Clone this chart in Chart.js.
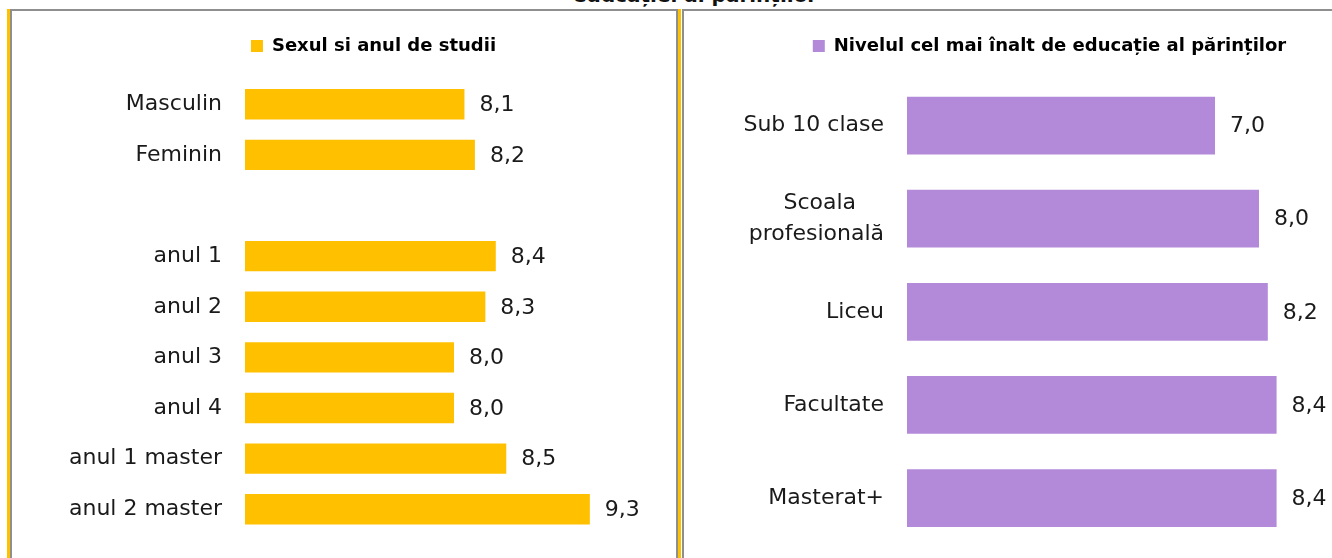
<!DOCTYPE html>
<html>
<head>
<meta charset="utf-8">
<script src="https://cdn.jsdelivr.net/npm/chart.js@4.4.1/dist/chart.umd.min.js"></script>
<style>
  html, body { margin: 0; padding: 0; background: #fff; }
  body { width: 1332px; height: 558px; overflow: hidden; position: relative; font-family: "DejaVu Sans", sans-serif; }
  .gold { position: absolute; top: 9px; width: 3px; height: 560px; background: #FFC000; }
  .frame { position: absolute; top: 9px; height: 560px; border-top: 2px solid #8f8f8f; }
  .title { position: absolute; left: 0; width: 1400px; top: -15px; line-height: 20px; font-size: 20px; font-weight: bold; color: #111; }
  .box { position: absolute; top: 11px; }
</style>
</head>
<body>
<div class="title"><span style="position:absolute; left:573px; white-space:nowrap;">educației al părinților</span></div>
<div class="gold" style="left:7px"></div>
<div class="frame" style="left:10px; width:664px; border-left:2px solid #8f8f8f; border-right:2px solid #8f8f8f;"></div>
<div class="gold" style="left:678px"></div>
<div class="frame" style="left:682px; width:700px; border-left:2px solid #8f8f8f;"></div>

<div class="box" style="left:12px; width:664px; height:562px;"><canvas id="left"></canvas></div>
<div class="box" style="left:684px; width:734px; height:572px;"><canvas id="right"></canvas></div>

<script>
// ===== DATA =====
const studyLabel = "Sexul si anul de studii";
const studyCategories = ["Masculin", "Feminin", "", "anul 1", "anul 2", "anul 3", "anul 4", "anul 1 master", "anul 2 master"];
const studyValues = [8.1, 8.2, null, 8.4, 8.3, 8.0, 8.0, 8.5, 9.3];

const parentLabel = "Nivelul cel mai înalt de educație al părinților";
const parentCategories = ["Sub 10 clase", ["Scoala", "profesională"], "Liceu", "Facultate", "Masterat+"];
const parentValues = [7.0, 8.0, 8.2, 8.4, 8.4];

const FONT = "'DejaVu Sans', sans-serif";
const TEXT = "#1a1a1a";

// pad short lines so multi-line labels look centred while staying right aligned
function centerLines(label) {
  if (!Array.isArray(label)) return label;
  const c = document.createElement("canvas").getContext("2d");
  c.font = "22px " + FONT;
  const widths = label.map(l => c.measureText(l).width);
  const max = Math.max(...widths);
  const sp = c.measureText("\u00a0").width;
  return label.map((l, i) => l + "\u00a0".repeat(Math.round((max - widths[i]) / 2 / sp)));
}

const valueLabels = {
  id: "valueLabels",
  afterDatasetsDraw(chart) {
    const ctx = chart.ctx;
    ctx.save();
    ctx.font = "22px " + FONT;
    ctx.fillStyle = TEXT;
    ctx.textAlign = "left";
    ctx.textBaseline = "middle";
    chart.getDatasetMeta(0).data.forEach((bar, i) => {
      const v = chart.data.datasets[0].data[i];
      if (v == null) return;
      ctx.fillText(v.toFixed(1).replace(".", ","), bar.x + 15, bar.y + 1);
    });
    ctx.restore();
  }
};

// legend sits a bit right of the panel centre in the original
const legendShift = {
  id: "legendShift",
  afterLayout(chart, args, opts) {
    if (!chart.legend) return;
    chart.legend.left += opts.dx || 0;
    chart.legend.right += opts.dx || 0;
  }
};

function makeChart(id, label, categories, values, color, opts) {
  return new Chart(document.getElementById(id), {
    type: "bar",
    data: {
      labels: categories.map(centerLines),
      datasets: [{
        label: label,
        data: values,
        backgroundColor: color,
        borderWidth: 0,
        barPercentage: opts.bar,
        categoryPercentage: 1
      }]
    },
    options: {
      indexAxis: "y",
      responsive: true,
      maintainAspectRatio: false,
      animation: false,
      layout: { padding: opts.padding },
      plugins: {
        legend: {
          position: "top",
          labels: {
            boxWidth: 12,
            boxHeight: 12,
            padding: 10,
            color: "#000",
            font: { family: FONT, size: 18, weight: "bold" }
          }
        },
        legendShift: { dx: opts.legendDx },
        tooltip: { enabled: false }
      },
      scales: {
        x: {
          position: "top",
          min: opts.min,
          max: opts.max,
          grid: { display: false, drawTicks: false },
          border: { display: false },
          ticks: { display: false },
          afterFit: s => { s.height = 14; }
        },
        y: {
          grid: { display: false, drawTicks: false },
          border: { display: false },
          ticks: {
            color: TEXT,
            padding: 23,
            font: { family: FONT, size: 22, lineHeight: 1.4 }
          },
          afterFit: s => { s.width = opts.axisWidth; }
        }
      }
    },
    plugins: [valueLabels, legendShift]
  });
}

makeChart("left", studyLabel, studyCategories, studyValues, "#FFC000", {
  min: 6, max: 10, bar: 0.6, axisWidth: 233, legendDx: 36,
  padding: { left: 0, right: 13, top: 16, bottom: 0 }
});

makeChart("right", parentLabel, parentCategories, parentValues, "#B38AD9", {
  min: 0, max: 10, bar: 0.62, axisWidth: 223, legendDx: 34,
  padding: { left: 0, right: 71, top: 16, bottom: 0 }
});
</script>
</body>
</html>
